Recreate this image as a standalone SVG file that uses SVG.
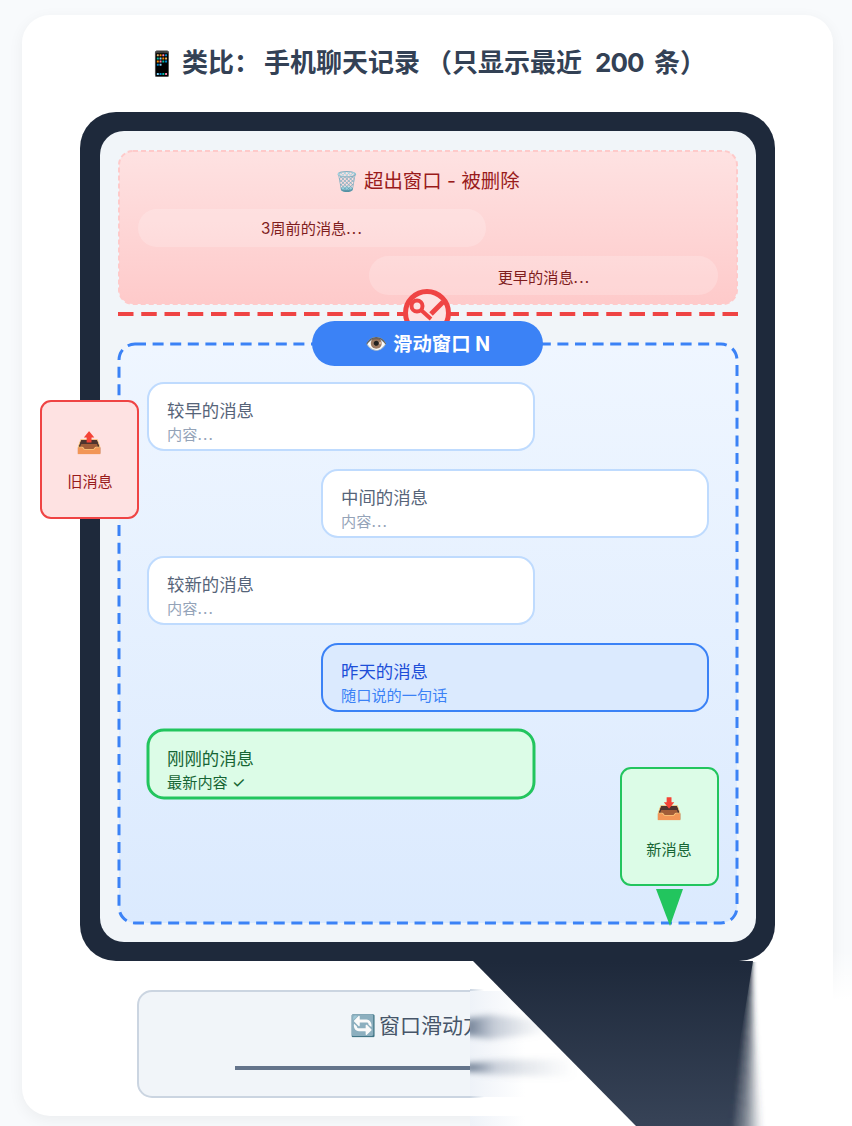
<svg xmlns="http://www.w3.org/2000/svg" width="852" height="1126" viewBox="0 0 852 1126">
<style>
text{font-family:"Inter","Noto Sans CJK SC","Noto Color Emoji",sans-serif}
.msg{fill:#fff;stroke:#bfdbfe;stroke-width:2}
.t{font-size:17.4px;fill:#566479}
.s{font-size:15.2px;fill:#94a3b8}
.pill{fill:#fff;fill-opacity:.2}
.p{font-size:15.2px;fill:#7f1d1d;text-anchor:middle}
.lbl{font-size:15.2px;text-anchor:middle}
.ico{font-size:21px;text-anchor:middle}
.h{font-size:26px;font-weight:700;fill:#334155}
.d{letter-spacing:1.2px}
.w{fill:url(#wedge)}
</style>
<defs>
<linearGradient id="red" x1="0" y1="0" x2="0" y2="1"><stop offset="0" stop-color="#fee2e2"/><stop offset="1" stop-color="#fecaca"/></linearGradient>
<linearGradient id="blue" x1="0" y1="0" x2="0" y2="1"><stop offset="0" stop-color="#eff6ff"/><stop offset="1" stop-color="#dbeafe"/></linearGradient>
<linearGradient id="wedge" gradientUnits="userSpaceOnUse" x1="0" y1="962" x2="0" y2="1126"><stop offset="0" stop-color="#1e293b"/><stop offset="1" stop-color="#374357"/></linearGradient>
<linearGradient id="s1" gradientUnits="userSpaceOnUse" x1="470" y1="0" x2="550" y2="0"><stop offset="0" stop-color="#64748b" stop-opacity=".85"/><stop offset=".3" stop-color="#7c8aa0" stop-opacity=".4"/><stop offset="1" stop-color="#94a3b8" stop-opacity="0"/></linearGradient>
<linearGradient id="s2" gradientUnits="userSpaceOnUse" x1="470" y1="0" x2="575" y2="0"><stop offset="0" stop-color="#64748b" stop-opacity=".95"/><stop offset=".25" stop-color="#7c8aa0" stop-opacity=".35"/><stop offset="1" stop-color="#94a3b8" stop-opacity="0"/></linearGradient>
<linearGradient id="s3" gradientUnits="userSpaceOnUse" x1="470" y1="0" x2="525" y2="0"><stop offset="0" stop-color="#eef2f8"/><stop offset="1" stop-color="#eef2f8" stop-opacity="0"/></linearGradient>
<linearGradient id="s4" gradientUnits="userSpaceOnUse" x1="470" y1="0" x2="484" y2="0"><stop offset="0" stop-color="#cbd5e1"/><stop offset="1" stop-color="#cbd5e1" stop-opacity="0"/></linearGradient>
<linearGradient id="rt" x1="0" y1="0" x2="0" y2="1"><stop offset="0" stop-color="#fff" stop-opacity="0"/><stop offset="1" stop-color="#fff"/></linearGradient>
<filter id="b" x="-20%" y="-200%" width="140%" height="500%"><feGaussianBlur stdDeviation="3"/></filter>
<filter id="soft" x="-30%" y="-5%" width="160%" height="110%"><feGaussianBlur stdDeviation="2"/></filter>
<filter id="sh" x="-5%" y="-5%" width="110%" height="110%"><feGaussianBlur stdDeviation="8"/></filter>
<clipPath id="right"><rect x="470" y="962" width="382" height="164"/></clipPath>
</defs>
<rect width="852" height="1126" fill="#f8fafc"/>
<rect x="22" y="19" width="811" height="1101" rx="28" fill="#000" opacity=".05" filter="url(#sh)"/>
<rect x="22" y="15" width="811" height="1101" rx="28" fill="#fff"/>
<g id="title">
<text class="h" x="147" y="72" style="font-size:24px">📱</text>
<text class="h" x="182" y="72">类比：</text>
<text class="h" x="264" y="72">手机聊天记录</text>
<text class="h" x="426" y="72">（只显示最近</text>
<text class="h" x="595" y="72" letter-spacing="-1">200</text>
<text class="h" x="654" y="72">条）</text>
</g>
<g id="phone">
<rect x="80" y="112" width="695" height="849" rx="36" fill="#1e293b"/>
<rect x="100" y="131" width="656" height="811" rx="24" fill="#f1f5f9"/>
</g>
<g id="deleted-zone">
<rect x="119" y="151" width="618" height="153" rx="14" fill="url(#red)" stroke="#fecaca" stroke-width="2" stroke-dasharray="5 3"/>
<text x="335" y="188" font-size="19">🗑️</text>
<text x="364" y="188" font-size="19.400" fill="#991b1b">超出窗口 - 被删除</text>
<rect class="pill" x="138" y="209" width="348" height="38" rx="19"/>
<text class="p" x="312" y="234">3周前的消息<tspan class="d">...</tspan></text>
<rect class="pill" x="369" y="256" width="349" height="39" rx="19.500"/>
<text class="p" x="544" y="283">更早的消息<tspan class="d">...</tspan></text>
</g>
<g id="cut-line">
<line x1="118" y1="314" x2="738" y2="314" stroke="#ef4444" stroke-width="4" stroke-dasharray="15.500 7.750"/>
<g id="cut-icon" fill="none" stroke="#ef4444">
<circle cx="427" cy="313" r="21.500" stroke-width="5" fill="#fde2e2"/>
<circle cx="417" cy="306" r="5.500" stroke-width="4"/>
<path d="M421 310L431 319" stroke-width="4"/>
<path d="M431 314L443 302" stroke-width="5"/>
</g>
</g>
<g id="window">
<rect x="119" y="344" width="618" height="579" rx="16" fill="url(#blue)" stroke="#3b82f6" stroke-width="3" stroke-dasharray="11 6.600"/>
<rect x="312" y="321" width="231" height="45" rx="22.500" fill="#3b82f6"/>
<text x="365" y="350" font-size="18" fill="#fff">👁️</text>
<text x="393" y="351" font-size="19.400" font-weight="700" fill="#fff">滑动窗口 N</text>
</g>
<g id="msg1"><rect class="msg" x="148" y="383" width="386" height="67" rx="16"/><text class="t" x="167" y="417">较早的消息</text><text class="s" x="167" y="440">内容<tspan class="d">...</tspan></text></g>
<g id="msg2"><rect class="msg" x="322" y="470" width="386" height="67" rx="16"/><text class="t" x="341" y="504">中间的消息</text><text class="s" x="341" y="527">内容<tspan class="d">...</tspan></text></g>
<g id="msg3"><rect class="msg" x="148" y="557" width="386" height="67" rx="16"/><text class="t" x="167" y="591">较新的消息</text><text class="s" x="167" y="614">内容<tspan class="d">...</tspan></text></g>
<g id="msg4"><rect x="322" y="644" width="386" height="67" rx="16" fill="#dbeafe" stroke="#3b82f6" stroke-width="2"/><text class="t" style="fill:#1d4ed8" x="341" y="678">昨天的消息</text><text class="s" style="fill:#3b82f6" x="341" y="701">随口说的一句话</text></g>
<g id="msg5"><rect x="148" y="730" width="386" height="68" rx="16" fill="#dcfce7" stroke="#22c55e" stroke-width="3"/><text class="t" style="fill:#166534" x="167" y="765">刚刚的消息</text><text class="s" style="fill:#166534" x="167" y="788">最新内容 ✓</text></g>
<g id="old-msg"><rect x="41" y="401" width="97" height="117" rx="10" fill="#fee2e2" stroke="#ef4444" stroke-width="2"/><text class="ico" x="89" y="450">📤</text><text class="lbl" fill="#991b1b" x="90" y="487">旧消息</text></g>
<g id="new-msg"><rect x="621" y="768" width="97" height="117" rx="10" fill="#dcfce7" stroke="#22c55e" stroke-width="2"/><text class="ico" x="669" y="816">📥</text><text class="lbl" fill="#166534" x="669" y="855">新消息</text></g>
<g id="connectors"><polygon points="656,889 683,889 670,926" fill="#22c55e"/></g>
<g id="legend">
<rect x="138" y="991" width="580" height="106" rx="14" fill="#f1f5f9" stroke="#cbd5e1" stroke-width="2"/>
<text x="350" y="1033" font-size="21">🔄</text>
<text x="379" y="1033" font-size="21" fill="#475569">窗口滑动方</text>
<rect x="235" y="1066" width="360" height="4" fill="#64748b"/>
</g>
<g id="overlay">
<rect x="470" y="962" width="363" height="164" fill="#fff"/>
<rect x="833" y="1000" width="19" height="126" fill="#fff"/>
<rect x="825" y="950" width="27" height="50" fill="url(#rt)"/>
<g clip-path="url(#right)">
<rect x="470" y="991" width="55" height="106" fill="url(#s3)"/>
<rect x="470" y="1116" width="55" height="10" fill="url(#s3)"/>
<rect x="470" y="989" width="14" height="2" fill="url(#s4)"/>
<rect x="470" y="1096" width="14" height="2" fill="url(#s4)"/>
<polygon points="465,1019 490,1015 550,1021 550,1033 490,1039 465,1035" fill="url(#s1)" filter="url(#b)"/>
<polygon points="465,1064 500,1060 575,1059 575,1077 500,1075 465,1071" fill="url(#s2)" filter="url(#b)"/>
</g>
<g id="edge" filter="url(#soft)" clip-path="url(#right)">
<polygon class="w" points="700,955 753,955 733,1136 680,1136"/>
<polygon class="w" points="753,960 763,1136 759,1136" opacity=".08"/>
<polygon class="w" points="753,960 759,1136 755,1136" opacity=".2"/>
<polygon class="w" points="753,960 755,1136 751,1136" opacity=".35"/>
<polygon class="w" points="753,960 751,1136 747,1136" opacity=".5"/>
<polygon class="w" points="753,960 747,1136 742,1136" opacity=".65"/>
<polygon class="w" points="753,960 742,1136 737,1136" opacity=".78"/>
<polygon class="w" points="753,960 737,1136 733,1136" opacity=".9"/>
</g>
<polygon class="w" points="473,961 753,961 726,1126 636,1126"/>
</g>
</svg>
